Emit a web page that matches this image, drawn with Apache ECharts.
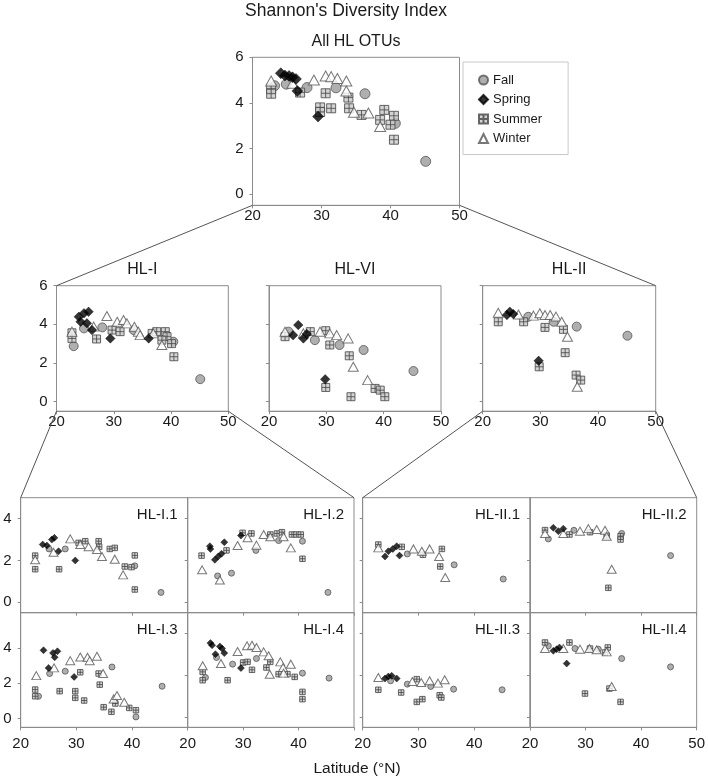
<!DOCTYPE html>
<html><head><meta charset="utf-8">
<script src="https://cdn.jsdelivr.net/npm/echarts@6/dist/echarts.min.js"></script>
<style>html,body{margin:0;padding:0;background:#fff}#c{width:708px;height:779px}</style>
</head><body><div id="c"></div>
<script>
// ---------- DATA: [latitude (°N), Shannon index] ----------
const seasons = ['Fall', 'Spring', 'Summer', 'Winter'];
const xTicks = [20, 30, 40, 50];

// All HL OTUs
const all_fall = [[23.2,4.75],[24.9,4.82],[27.9,4.67],[32.1,4.66],[36.3,4.4],[40.7,3.1],[45.1,1.43]];
const all_spring = [[24.1,5.3],[24.7,5.2],[25.3,5.18],[25.8,5.12],[26.3,5.05],[26.5,4.52],[29.5,3.4]];
const all_summer = [[22.7,4.62],[22.7,4.4],[26.9,4.45],[30.6,4.42],[33.9,4.23],[29.8,3.8],[29.8,3.6],[31.4,3.76],[34.0,3.76],[35.8,3.47],[39.1,3.69],[40.5,3.43],[38.5,3.25],[40.0,3.04],[40.5,2.38]];
const all_winter = [[22.7,4.96],[25.8,4.86],[28.9,5.0],[30.6,5.18],[31.4,5.15],[32.3,5.07],[33.6,4.96],[33.6,4.52],[34.7,3.59],[36.8,3.55],[38.5,2.96]];

// HL-I
const hl1_fall = [[23.0,2.87],[24.8,3.79],[28.0,3.84],[33.5,3.7],[40.4,3.1],[45.1,1.16]];
const hl1_spring = [[23.9,4.39],[24.8,4.57],[25.6,4.65],[24.2,4.13],[25.3,4.05],[26.2,3.7],[29.4,3.27],[36.1,3.27]];
const hl1_summer = [[22.7,3.56],[22.7,3.27],[27.0,3.24],[29.7,3.7],[31.1,3.62],[36.7,3.53],[37.5,3.62],[39.0,3.62],[39.3,3.36],[38.4,3.18],[40.1,3.0],[40.5,2.32]];
const hl1_winter = [[22.7,3.62],[26.5,3.88],[28.8,4.43],[30.6,4.13],[31.7,4.22],[32.3,4.05],[33.6,3.87],[34.3,3.62],[34.6,3.44],[36.9,3.53],[38.4,2.93]];

// HL-VI
const hl6_fall = [[23.4,3.62],[28.0,3.18],[32.3,2.93],[36.5,2.67],[45.2,1.58]];
const hl6_spring = [[25.1,3.96],[24.2,3.44],[26.0,3.27],[26.6,3.5],[29.8,1.15]];
const hl6_summer = [[22.8,3.36],[27.2,3.62],[29.9,3.67],[30.6,2.93],[34.0,2.37],[29.9,0.73],[34.3,0.25],[38.5,0.68],[39.4,0.59],[40.2,0.25]];
const hl6_winter = [[22.8,3.62],[26.0,3.53],[28.9,3.62],[30.6,3.53],[31.8,3.44],[33.8,3.27],[34.7,1.8],[37.2,1.11]];

// HL-II
const hl2_fall = [[27.9,4.39],[32.3,4.13],[36.3,3.88],[45.1,3.41]];
const hl2_spring = [[24.2,4.48],[24.7,4.65],[25.3,4.53],[29.7,2.11]];
const hl2_summer = [[22.7,4.13],[27.1,4.13],[30.8,3.84],[34.0,3.74],[34.3,2.53],[29.8,1.8],[36.2,1.37],[37.0,1.11]];
const hl2_winter = [[22.7,4.6],[26.2,4.51],[28.8,4.45],[29.9,4.57],[30.8,4.48],[31.7,4.48],[32.7,4.4],[33.7,4.13],[34.7,3.36],[36.4,0.77]];

// HL-I.1
const i1_fall = [[25.1,2.55],[28.0,2.55],[40.5,1.74],[45.2,0.47]];
const i1_spring = [[23.95,2.76],[24.7,2.71],[25.6,3.0],[26.05,3.08],[26.8,2.44],[29.8,2.0]];
const i1_summer = [[22.6,2.23],[22.6,1.58],[26.9,1.58],[30.4,2.84],[31.6,2.92],[34.0,2.92],[34.1,2.65],[36.0,2.55],[36.9,2.6],[38.7,1.71],[39.9,1.68],[40.5,2.24],[40.5,0.61]];
const i1_winter = [[22.6,2.03],[25.9,2.39],[28.9,3.03],[30.7,2.76],[32.2,2.65],[33.7,2.52],[34.6,2.19],[36.9,2.06],[38.4,1.31]];

// HL-I.2
const i2_fall = [[25.4,1.26],[27.9,1.39],[32.3,2.48],[36.4,2.95],[40.7,2.92],[45.3,0.47]];
const i2_spring = [[24.0,2.68],[24.1,2.55],[24.9,2.03],[25.5,2.19],[26.1,2.32],[26.6,2.87],[29.6,3.19]];
const i2_summer = [[22.5,2.23],[27.0,2.48],[29.9,3.32],[31.5,3.29],[34.9,3.24],[36.1,3.29],[37.0,3.35],[38.8,3.24],[39.6,3.24],[40.4,3.24],[40.7,2.08]];
const i2_winter = [[22.6,1.55],[25.8,1.06],[29.0,2.71],[30.8,3.08],[32.4,2.73],[33.7,3.24],[34.9,3.13],[37.3,3.13],[38.6,2.6]];

// HL-II.1
const ii1_fall = [[28.0,2.31],[36.4,1.79],[45.2,1.11]];
const ii1_spring = [[24.0,2.19],[24.6,2.44],[25.4,2.55],[26.1,2.68],[26.6,2.23]];
const ii1_summer = [[22.8,2.76],[27.0,2.65],[30.8,2.27],[34.2,2.55],[33.9,1.71]];
const ii1_winter = [[22.8,2.6],[29.1,2.55],[30.6,2.44],[32.0,2.55],[33.7,2.19],[34.8,1.18]];

// HL-II.2
const ii2_fall = [[23.3,3.03],[27.9,3.44],[36.5,3.29],[45.3,2.23]];
const ii2_spring = [[24.2,3.56],[25.1,3.4],[26.0,3.52]];
const ii2_summer = [[22.7,3.45],[27.1,3.24],[30.8,3.35],[33.8,3.19],[36.3,3.16],[36.3,3.0],[34.1,0.69]];
const ii2_winter = [[22.7,3.29],[26.0,3.29],[29.0,3.4],[30.5,3.52],[32.0,3.48],[33.5,3.44],[33.8,3.16],[34.7,1.58]];

// HL-I.3
const i3_fall = [[25.2,2.55],[28.0,2.68],[23.2,1.26],[36.4,2.92],[45.4,1.83],[40.7,0.09]];
const i3_spring = [[24.1,3.87],[25.8,3.72],[26.6,3.81],[26.1,3.47],[25.0,2.87],[29.6,2.36]];
const i3_summer = [[22.6,1.64],[22.6,1.26],[27.0,1.55],[29.8,1.55],[29.8,1.17],[30.7,2.62],[31.4,1.02],[34.0,2.55],[34.2,1.92],[34.9,0.64],[36.3,0.38],[37.0,0.85],[39.5,0.6],[40.7,0.47]];
const i3_winter = [[22.8,2.43],[26.0,2.87],[28.9,3.28],[30.7,3.49],[32.0,3.47],[32.4,3.28],[33.7,3.53],[34.8,2.55],[36.7,1.11],[37.3,1.3],[38.6,0.92]];

// HL-I.4
const i4_fall = [[23.2,1.89],[25.2,2.85],[28.1,2.53],[32.4,2.8],[40.7,2.1],[45.5,1.86]];
const i4_spring = [[24.1,3.54],[24.4,3.44],[25.8,3.38],[26.2,3.28],[25.0,3.01],[26.6,3.06],[29.6,2.34]];
const i4_summer = [[22.7,2.16],[22.7,1.76],[27.2,1.76],[30.0,2.61],[30.8,2.64],[31.6,2.26],[34.2,2.37],[34.9,2.64],[36.4,2.05],[38.0,2.05],[39.3,1.92],[40.7,1.2],[40.7,0.85]];
const i4_winter = [[22.7,2.45],[26.0,2.56],[29.0,3.14],[30.7,3.41],[31.6,3.44],[32.4,3.33],[33.7,3.12],[34.6,2.93],[34.8,2.05],[36.7,2.64],[37.2,2.37],[37.3,2.1],[38.6,2.53]];

// HL-II.3
const ii3_fall = [[25.0,1.73],[28.0,1.57],[32.2,1.46],[36.3,1.33],[45.0,1.3]];
const ii3_spring = [[24.0,1.84],[24.6,1.94],[25.2,1.97],[26.1,1.84]];
const ii3_summer = [[22.8,1.3],[26.9,1.17],[29.7,1.81],[29.7,0.72],[30.7,0.85],[33.8,1.04],[34.1,0.93]];
const ii3_winter = [[22.8,1.89],[28.9,1.7],[30.5,1.65],[32.0,1.73],[33.5,1.62],[34.7,1.78]];

// HL-II.4
const ii4_fall = [[23.3,3.41],[28.1,3.28],[32.3,3.25],[36.5,2.8],[45.3,2.4]];
const ii4_spring = [[24.2,3.17],[24.8,3.25],[25.3,3.33],[26.6,2.56]];
const ii4_summer = [[22.7,3.57],[27.1,3.57],[30.8,3.28],[33.5,3.09],[34.0,3.33],[29.9,1.12],[34.3,1.36],[36.3,0.72]];
const ii4_winter = [[22.7,3.28],[26.0,3.28],[29.0,3.25],[30.7,3.28],[32.0,3.22],[33.8,3.12],[34.7,1.46]];

// ---------- LAYOUT ----------
const FONT = '"Liberation Sans", Arial, sans-serif';
const TXT = '#1a1a1a';
const AX = '#8c8c8c';
const SZ_L = {c:10, d:11, s:9, t:[11,10]};
const SZ_M = {c:9, d:9.5, s:8, t:[10,9]};
const SZ_S = {c:6, d:7, s:5.5, t:[9,8]};

const panels = [
  {title:'All HL OTUs', sets:[all_fall,all_spring,all_summer,all_winter], l:252.5,t:57.3,w:207,h:148, ymax:6, yl:[0,2,4,6], yt:[0,2,4,6], xl:[20,30,40,50], sz:SZ_L, tpos:'top', lm:3},
  {title:'HL-I', sets:[hl1_fall,hl1_spring,hl1_summer,hl1_winter], l:56.5,t:285.7,w:171.8,h:125.5, ymax:6, yl:[0,2,4,6], yt:[0,2,4,6], xl:[20,30,40,50], sz:SZ_M, tpos:'top', lm:3},
  {title:'HL-VI', sets:[hl6_fall,hl6_spring,hl6_summer,hl6_winter], l:269,t:285.7,w:172,h:125.5, ymax:6, yl:[], yt:[0,2,4,6], xl:[20,30,40,50], sz:SZ_M, tpos:'top', lm:3},
  {title:'HL-II', sets:[hl2_fall,hl2_spring,hl2_summer,hl2_winter], l:482.7,t:285.7,w:173,h:125.5, ymax:6, yl:[], yt:[0,2,4,6], xl:[20,30,40,50], sz:SZ_M, tpos:'top', lm:3},
  {title:'HL-I.1', sets:[i1_fall,i1_spring,i1_summer,i1_winter], l:20.7,t:497.7,w:167,h:115, ymax:5, yl:[0,2,4], yt:[0,2,4], xl:[], sz:SZ_S, tpos:'in'},
  {title:'HL-I.2', sets:[i2_fall,i2_spring,i2_summer,i2_winter], l:187.7,t:497.7,w:166.3,h:115, ymax:5, yl:[], yt:[0,2,4], xl:[], sz:SZ_S, tpos:'in'},
  {title:'HL-II.1', sets:[ii1_fall,ii1_spring,ii1_summer,ii1_winter], l:362.7,t:497.7,w:167.3,h:115, ymax:5, yl:[], yt:[0,2,4], xl:[], sz:SZ_S, tpos:'in'},
  {title:'HL-II.2', sets:[ii2_fall,ii2_spring,ii2_summer,ii2_winter], l:530,t:497.7,w:166.7,h:115, ymax:5, yl:[], yt:[0,2,4], xl:[], sz:SZ_S, tpos:'in'},
  {title:'HL-I.3', sets:[i3_fall,i3_spring,i3_summer,i3_winter], l:20.7,t:612.7,w:167,h:114.6, ymax:6, yl:[0,2,4], yt:[0,2,4], xl:[20,30,40], sz:SZ_S, tpos:'in', lm:9},
  {title:'HL-I.4', sets:[i4_fall,i4_spring,i4_summer,i4_winter], l:187.7,t:612.7,w:166.3,h:114.6, ymax:5, yl:[], yt:[0,2,4], xl:[20,30,40], sz:SZ_S, tpos:'in', lm:9},
  {title:'HL-II.3', sets:[ii3_fall,ii3_spring,ii3_summer,ii3_winter], l:362.7,t:612.7,w:167.3,h:114.6, ymax:5, yl:[], yt:[0,2,4], xl:[20,30,40], sz:SZ_S, tpos:'in', lm:9},
  {title:'HL-II.4', sets:[ii4_fall,ii4_spring,ii4_summer,ii4_winter], l:530,t:612.7,w:166.7,h:114.6, ymax:5, yl:[], yt:[0,2,4], xl:[20,30,40,50], sz:SZ_S, tpos:'in', lm:9}
];

const SUMMER_PATH = 'path://M0,0H10V10H0ZM5,0V10M0,5H10';

const grid = [], xAxis = [], yAxis = [], series = [], graphic = [];

panels.forEach((p, i) => {
  grid.push({left:p.l, top:p.t, width:p.w, height:p.h, show:true, borderColor:AX, borderWidth:1, backgroundColor:'transparent', containLabel:false});
  xAxis.push({
    gridIndex:i, type:'value', min:20, max:50,
    axisLine:{show:true, onZero:false, lineStyle:{color:AX}},
    axisTick:{show:true, inside:false, length:3, customValues:xTicks, lineStyle:{color:AX}},
    axisLabel:{show:p.xl.length>0, customValues:p.xl.length?p.xl:xTicks, margin:p.lm||3, fontSize:15, fontFamily:FONT, color:TXT},
    splitLine:{show:false}
  });
  yAxis.push({
    gridIndex:i, type:'value', min:-0.5, max:p.ymax,
    axisLine:{show:true, onZero:false, lineStyle:{color:AX}},
    axisTick:{show:true, inside:false, length:3, customValues:p.yt, lineStyle:{color:AX}},
    axisLabel:{show:p.yl.length>0, customValues:p.yl.length?p.yl:p.yt, margin:9, fontSize:15, fontFamily:FONT, color:TXT},
    splitLine:{show:false}
  });
  const base = {type:'scatter', xAxisIndex:i, yAxisIndex:i, animation:false, emphasis:{disabled:true}, silent:true};
  series.push(Object.assign({}, base, {name:'Fall', data:p.sets[0], symbol:'circle', symbolSize:p.sz.c, z:2,
    itemStyle:{color:'#9b9b9b', borderColor:'#555', borderWidth:1}}));
  series.push(Object.assign({}, base, {name:'Summer', data:p.sets[2], symbol:SUMMER_PATH, symbolSize:p.sz.s, z:3,
    itemStyle:{color:'#c9c9c9', borderColor:'#444', borderWidth:1}}));
  series.push(Object.assign({}, base, {name:'Winter', data:p.sets[3], symbol:'triangle', symbolSize:p.sz.t, z:4,
    itemStyle:{color:'#ffffff', borderColor:'#555', borderWidth:1}}));
  series.push(Object.assign({}, base, {name:'Spring', data:p.sets[1], symbol:'diamond', symbolSize:p.sz.d, z:5,
    itemStyle:{color:'#000', borderColor:'#000', borderWidth:0.5}}));

  if (p.tpos === 'top') {
    graphic.push({type:'text', x:p.l + p.w/2, y:p.t - 16, style:{text:p.title, fontSize:16, fontFamily:FONT, fill:TXT, textAlign:'center', textVerticalAlign:'middle'}});
  } else {
    graphic.push({type:'text', x:p.l + p.w - 10, y:p.t + 17, style:{text:p.title, fontSize:15, fontFamily:FONT, fill:TXT, textAlign:'right', textVerticalAlign:'middle'}});
  }
});

// main title and x-axis name
graphic.push({type:'text', x:346, y:11, style:{text:"Shannon's Diversity Index", fontSize:17.5, fontFamily:FONT, fill:TXT, textAlign:'center', textVerticalAlign:'middle'}});
graphic.push({type:'text', x:357, y:769, style:{text:'Latitude (°N)', fontSize:15.5, fontFamily:FONT, fill:TXT, textAlign:'center', textVerticalAlign:'middle'}});

// zoom connector lines between panels
function corner(p, side, edge) { return [side==='l'?p.l:p.l+p.w, edge==='t'?p.t:p.t+p.h]; }
const P = panels;
const links = [
  [corner(P[0],'l','b'), corner(P[1],'l','t')],
  [corner(P[0],'r','b'), corner(P[3],'r','t')],
  [corner(P[1],'l','b'), corner(P[4],'l','t')],
  [corner(P[1],'r','b'), corner(P[5],'r','t')],
  [corner(P[3],'l','b'), corner(P[6],'l','t')],
  [corner(P[3],'r','b'), corner(P[7],'r','t')]
];
links.forEach(([a,b]) => graphic.push({type:'line', shape:{x1:a[0], y1:a[1], x2:b[0], y2:b[1]}, style:{stroke:'#555', lineWidth:1}, z:1}));

const option = {
  backgroundColor:'#fff',
  animation:false,
  grid, xAxis, yAxis, series, graphic,
  legend:{
    data:seasons, orient:'vertical', left:463, top:62, selectedMode:false,
    itemWidth:9, itemHeight:9, itemGap:5.5,
    padding:[11,26,9,15], borderColor:'#c8c8c8', borderWidth:1,
    textStyle:{fontSize:13, fontFamily:FONT, color:TXT, lineHeight:14}
  }
};
const chart = echarts.init(document.getElementById('c'), null, {renderer:'canvas'});
chart.setOption(option);
</script></body></html>
